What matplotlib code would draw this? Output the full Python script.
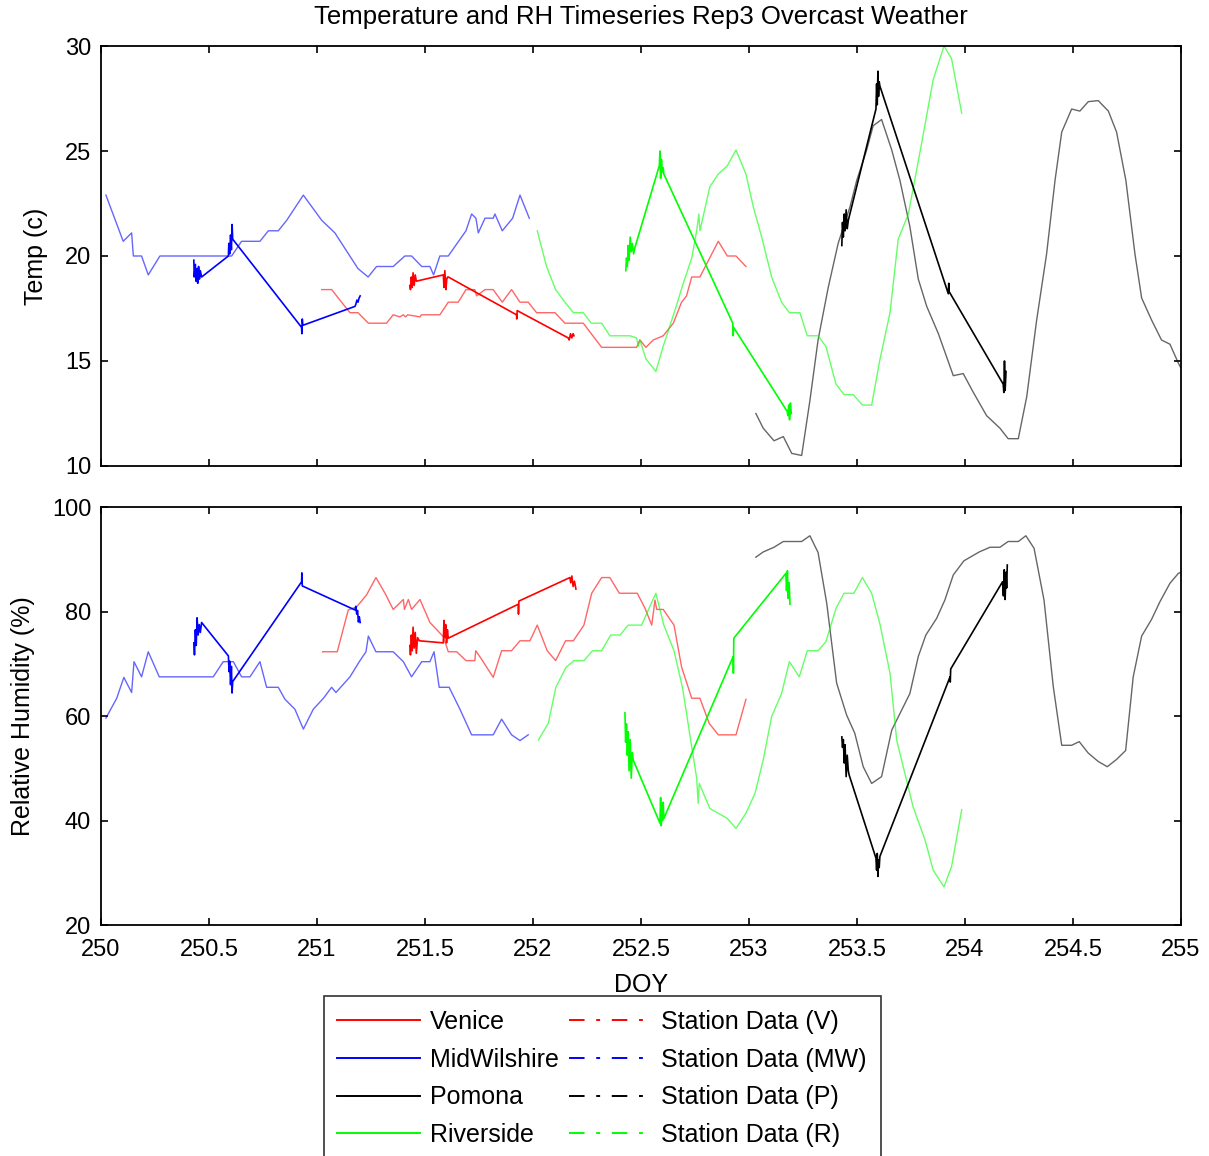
import matplotlib
matplotlib.use('Agg')
import matplotlib.pyplot as plt
from matplotlib.lines import Line2D

plt.rcParams['font.family'] = ['Liberation Sans', 'DejaVu Sans']

"""
Data read off the figure
"""

# Mobile measurements, temperature
mw_t_x = [250.430, 250.432, 250.437, 250.440, 250.445, 250.448, 250.452, 250.456, 250.460, 250.466,
          250.590, 250.592, 250.596, 250.600, 250.604, 250.607, 250.610,
          250.929, 250.930, 250.932, 250.935,
          251.176, 251.180, 251.185, 251.190, 251.195, 251.200]
mw_t_y = [19.8, 19.0, 19.6, 18.8, 19.4, 18.7, 19.5, 18.9, 19.3, 19.0,
          20.0, 20.6, 20.1, 21.0, 20.3, 21.5, 20.8,
          16.6, 16.3, 17.0, 16.7,
          17.6, 17.7, 17.9, 17.8, 18.0, 18.1]

v_t_x = [251.430, 251.433, 251.437, 251.441, 251.445, 251.450, 251.455, 251.460,
         251.585, 251.588, 251.592, 251.597, 251.601, 251.605, 251.608,
         251.924, 251.925, 251.927,
         252.163, 252.168, 252.174, 252.180, 252.186, 252.190]
v_t_y = [18.6, 18.4, 19.0, 18.5, 19.2, 18.6, 19.1, 18.8,
         19.1, 18.5, 19.3, 18.4, 18.9, 19.0, 19.0,
         17.2, 17.0, 17.4,
         16.1, 16.0, 16.3, 16.1, 16.3, 16.2]

r_t_x = [252.430, 252.433, 252.437, 252.441, 252.445, 252.450, 252.455, 252.460, 252.466, 252.472,
         252.585, 252.588, 252.591, 252.595, 252.599, 252.603, 252.606,
         252.925, 252.927, 252.929,
         253.177, 253.180, 253.184, 253.188, 253.192, 253.196]
r_t_y = [19.3, 19.9, 19.5, 20.5, 19.8, 20.9, 20.2, 20.6, 20.1, 20.4,
         24.3, 25.0, 23.7, 24.6, 24.0, 24.2, 23.9,
         16.8, 16.2, 16.6,
         12.6, 12.4, 12.9, 12.2, 13.0, 12.5]

p_t_x = [253.430, 253.433, 253.437, 253.441, 253.445, 253.450, 253.455, 253.460,
         253.588, 253.591, 253.594, 253.597, 253.600, 253.603, 253.606,
         253.923, 253.925, 253.927,
         254.177, 254.180, 254.183, 254.186, 254.190]
p_t_y = [20.5, 21.6, 20.9, 22.0, 21.2, 22.2, 21.3, 21.7,
         27.0, 28.2, 27.2, 28.8, 27.6, 28.3, 28.1,
         18.2, 18.7, 18.3,
         13.9, 13.5, 15.0, 13.6, 14.5]

# Station data, temperature
mw_st_x = [250.023, 250.103, 250.142, 250.150, 250.188, 250.219, 250.273, 250.605, 250.651, 250.736,
           250.775, 250.821, 250.860, 250.937, 251.022, 251.083, 251.190, 251.237, 251.276, 251.353,
           251.407, 251.438, 251.485, 251.523, 251.540, 251.569, 251.608, 251.690, 251.716, 251.736,
           251.747, 251.778, 251.816, 251.824, 251.858, 251.906, 251.940, 251.983]
mw_st_y = [22.9, 20.7, 21.1, 20.0, 20.0, 19.1, 20.0, 20.0, 20.7, 20.7,
           21.2, 21.2, 21.7, 22.9, 21.7, 21.1, 19.4, 19.0, 19.5, 19.5,
           20.0, 20.0, 19.5, 19.5, 19.1, 20.0, 20.0, 21.2, 22.0, 21.8,
           21.1, 21.8, 21.8, 22.0, 21.2, 21.8, 22.9, 21.8]

v_st_x = [251.022, 251.068, 251.114, 251.153, 251.190, 251.238, 251.322, 251.353, 251.384, 251.400,
          251.410, 251.420, 251.477, 251.484, 251.569, 251.608, 251.654, 251.690, 251.731, 251.739,
          251.778, 251.816, 251.858, 251.901, 251.940, 251.978, 252.017, 252.102, 252.148, 252.233,
          252.318, 252.480, 252.495, 252.523, 252.557, 252.603, 252.650, 252.688, 252.711, 252.735,
          252.773, 252.858, 252.900, 252.940, 252.986]
v_st_y = [18.4, 18.4, 17.8, 17.3, 17.3, 16.8, 16.8, 17.2, 17.1, 17.2,
          17.1, 17.2, 17.1, 17.2, 17.2, 17.8, 17.8, 18.4, 18.4, 18.1,
          18.4, 18.4, 17.8, 18.4, 17.8, 17.8, 17.3, 17.3, 16.8, 16.8,
          15.65, 15.65, 16.0, 15.65, 16.0, 16.2, 16.8, 17.8, 18.1, 19.0,
          19.0, 20.7, 20.0, 20.0, 19.5]

r_st_x = [252.020, 252.063, 252.105, 252.148, 252.187, 252.233, 252.270, 252.318, 252.356, 252.449,
          252.480, 252.488, 252.495, 252.523, 252.569, 252.603, 252.657, 252.696, 252.735, 252.758,
          252.768, 252.773, 252.819, 252.858, 252.900, 252.940, 252.986, 253.020, 253.059, 253.105,
          253.151, 253.187, 253.236, 253.270, 253.320, 253.356, 253.403, 253.440, 253.483, 253.525,
          253.568, 253.606, 253.653, 253.691, 253.738, 253.800, 253.853, 253.903, 253.938, 253.985]
r_st_y = [21.2, 19.5, 18.4, 17.8, 17.3, 17.3, 16.8, 16.8, 16.2, 16.2,
          16.1, 15.7, 16.0, 15.1, 14.5, 15.7, 17.4, 18.7, 19.9, 21.2,
          22.0, 21.2, 23.3, 23.9, 24.3, 25.05, 23.9, 22.35, 20.9, 19.0,
          17.8, 17.3, 17.3, 16.2, 16.2, 15.7, 13.9, 13.4, 13.4, 12.9,
          12.9, 15.05, 17.3, 20.8, 22.0, 25.4, 28.4, 30.0, 29.4, 26.8]

p_st_x = [253.032, 253.066, 253.116, 253.159, 253.198, 253.244, 253.282, 253.320, 253.367, 253.413,
          253.468, 253.499, 253.545, 253.575, 253.614, 253.661, 253.699, 253.745, 253.784, 253.823,
          253.877, 253.946, 253.992, 254.039, 254.100, 254.162, 254.200, 254.247, 254.286, 254.332,
          254.378, 254.417, 254.448, 254.494, 254.532, 254.571, 254.617, 254.664, 254.702, 254.745,
          254.787, 254.818, 254.864, 254.910, 254.949, 254.988, 254.998]
p_st_y = [12.5, 11.8, 11.2, 11.4, 10.6, 10.5, 13.1, 16.0, 18.5, 20.6,
          22.35, 23.6, 25.05, 26.2, 26.5, 25.05, 23.6, 21.4, 18.9, 17.6,
          16.3, 14.3, 14.4, 13.5, 12.4, 11.8, 11.3, 11.3, 13.3, 16.95,
          20.1, 23.6, 25.9, 27.0, 26.9, 27.35, 27.4, 26.9, 25.9, 23.6,
          20.1, 18.0, 16.95, 16.0, 15.8, 14.9, 14.7]

# Mobile measurements, relative humidity
mw_rh_x = [250.430, 250.433, 250.437, 250.441, 250.445, 250.450, 250.455, 250.460, 250.466,
           250.590, 250.593, 250.596, 250.600, 250.604, 250.607, 250.610,
           250.929, 250.930, 250.932,
           251.176, 251.180, 251.184, 251.188, 251.192, 251.196, 251.200]
mw_rh_y = [74.0, 71.7, 76.5, 73.5, 78.8, 75.5, 77.5, 76.0, 77.9,
           71.5, 68.5, 70.5, 66.0, 69.5, 64.4, 66.6,
           85.7, 87.4, 84.9,
           80.3, 81.0, 79.5, 80.2, 78.0, 79.0, 77.9]

v_rh_x = [251.430, 251.433, 251.437, 251.441, 251.445, 251.450, 251.455, 251.460, 251.466, 251.474,
          251.585, 251.588, 251.592, 251.596, 251.600, 251.604, 251.608,
          251.932, 251.933, 251.935,
          252.171, 252.175, 252.180, 252.186, 252.192, 252.199]
v_rh_y = [73.5, 71.7, 75.5, 72.5, 77.0, 73.0, 76.0, 72.0, 75.0, 74.4,
          74.0, 78.3, 75.0, 77.5, 74.0, 76.5, 74.9,
          81.4, 79.5, 82.0,
          86.5, 85.5, 86.8, 84.8, 85.8, 84.3]

r_rh_x = [252.426, 252.429, 252.433, 252.437, 252.441, 252.445, 252.450, 252.455, 252.460, 252.464,
          252.588, 252.591, 252.594, 252.597, 252.600, 252.603, 252.606,
          252.927, 252.928, 252.930,
          253.171, 253.174, 253.178, 253.182, 253.186, 253.190]
r_rh_y = [60.6, 55.0, 58.5, 52.5, 57.0, 49.5, 55.5, 48.1, 53.0, 51.6,
          39.5, 44.4, 39.0, 43.0, 40.0, 43.5, 40.4,
          71.4, 68.2, 74.9,
          87.3, 84.0, 87.8, 82.5, 85.5, 81.4]

p_rh_x = [253.430, 253.433, 253.437, 253.441, 253.445, 253.450, 253.455, 253.460, 253.464,
          253.588, 253.591, 253.594, 253.597, 253.600, 253.603, 253.606,
          253.931, 253.932, 253.934,
          254.174, 254.178, 254.182, 254.186, 254.190, 254.193, 254.196]
p_rh_y = [56.0, 54.0, 55.5, 51.0, 54.5, 48.4, 52.5, 49.5, 48.7,
          32.8, 30.5, 33.7, 29.3, 32.5, 31.0, 33.1,
          67.5, 66.5, 69.0,
          85.7, 83.0, 88.0, 82.3, 87.5, 84.5, 88.9]

# Station data, relative humidity
mw_srh_x = [250.023, 250.073, 250.106, 250.142, 250.153, 250.188, 250.219, 250.270, 250.520, 250.566,
            250.613, 250.651, 250.690, 250.736, 250.767, 250.821, 250.852, 250.898, 250.937, 250.983,
            251.030, 251.068, 251.088, 251.153, 251.196, 251.227, 251.238, 251.273, 251.353, 251.400,
            251.438, 251.485, 251.523, 251.542, 251.566, 251.612, 251.662, 251.716, 251.816, 251.855,
            251.901, 251.940, 251.978]
mw_srh_y = [59.6, 63.4, 67.4, 64.5, 70.4, 67.5, 72.3, 67.5, 67.5, 70.4,
            70.4, 67.5, 67.5, 70.4, 65.5, 65.5, 63.2, 61.3, 57.5, 61.3,
            63.4, 65.5, 64.5, 67.5, 70.4, 72.3, 75.3, 72.3, 72.3, 70.4,
            67.5, 70.4, 70.4, 72.3, 65.5, 65.5, 61.3, 56.4, 56.4, 59.4,
            56.4, 55.3, 56.4]

v_srh_x = [251.026, 251.094, 251.145, 251.184, 251.230, 251.273, 251.315, 251.353, 251.400, 251.405,
           251.423, 251.438, 251.477, 251.523, 251.585, 251.608, 251.647, 251.690, 251.731, 251.735,
           251.760, 251.816, 251.855, 251.901, 251.940, 251.986, 252.020, 252.066, 252.105, 252.151,
           252.187, 252.236, 252.272, 252.318, 252.356, 252.400, 252.483, 252.519, 252.550, 252.565,
           252.573, 252.603, 252.653, 252.688, 252.735, 252.773, 252.816, 252.858, 252.940, 252.986]
v_srh_y = [72.3, 72.3, 80.3, 80.9, 83.2, 86.5, 83.5, 80.4, 82.3, 80.4,
           82.3, 80.4, 82.3, 77.9, 75.2, 72.3, 72.3, 70.6, 70.6, 72.5,
           71.0, 67.4, 72.5, 72.5, 74.4, 74.4, 77.4, 72.5, 70.6, 74.4,
           74.4, 77.4, 83.5, 86.5, 86.5, 83.5, 83.5, 80.6, 77.4, 82.2,
           80.4, 80.4, 77.4, 69.4, 63.4, 63.4, 58.6, 56.4, 56.4, 63.2]

r_srh_x = [252.025, 252.071, 252.106, 252.153, 252.190, 252.236, 252.276, 252.318, 252.360, 252.403,
           252.441, 252.503, 252.535, 252.569, 252.606, 252.653, 252.693, 252.735, 252.758, 252.765,
           252.770, 252.819, 252.900, 252.940, 252.986, 253.028, 253.066, 253.105, 253.151, 253.187,
           253.233, 253.270, 253.320, 253.356, 253.403, 253.440, 253.486, 253.525, 253.568, 253.606,
           253.653, 253.684, 253.760, 253.815, 253.853, 253.903, 253.938, 253.985]
r_srh_y = [55.4, 58.6, 65.5, 69.3, 70.6, 70.6, 72.5, 72.5, 75.5, 75.5,
           77.4, 77.4, 80.4, 83.5, 77.4, 72.5, 65.3, 54.1, 48.1, 43.3,
           47.1, 42.3, 40.4, 38.5, 41.4, 45.2, 51.6, 59.9, 64.3, 70.4,
           67.5, 72.5, 72.5, 74.2, 80.6, 83.5, 83.5, 86.5, 83.5, 77.7,
           68.2, 55.4, 42.6, 36.3, 30.5, 27.3, 31.2, 42.1]

p_srh_x = [253.032, 253.066, 253.116, 253.159, 253.244, 253.282, 253.320, 253.360, 253.406, 253.452,
           253.490, 253.529, 253.568, 253.614, 253.661, 253.745, 253.784, 253.819, 253.869, 253.907,
           253.946, 253.995, 254.066, 254.116, 254.162, 254.200, 254.247, 254.282, 254.320, 254.366,
           254.409, 254.448, 254.494, 254.529, 254.571, 254.617, 254.659, 254.702, 254.744, 254.779,
           254.818, 254.864, 254.903, 254.949, 254.988, 254.998]
p_srh_y = [90.4, 91.4, 92.3, 93.4, 93.4, 94.5, 91.3, 81.6, 66.3, 60.2,
           56.7, 50.3, 47.1, 48.4, 57.3, 64.3, 71.4, 75.5, 78.7, 82.2,
           87.0, 89.7, 91.4, 92.3, 92.3, 93.4, 93.4, 94.5, 92.1, 82.2,
           65.6, 54.4, 54.4, 55.1, 52.9, 51.3, 50.3, 51.7, 53.4, 67.5,
           75.3, 78.5, 81.9, 85.4, 87.3, 87.5]

site_names = ['Venice', 'MidWilshire', 'Pomona', 'Riverside']
station_names = ['Station Data (V)', 'Station Data (MW)', 'Station Data (P)', 'Station Data (R)']
colors = ['#ff0000', '#0000ff', '#000000', '#00ff00']

x_ticks = [250, 250.5, 251, 251.5, 252, 252.5, 253, 253.5, 254, 254.5, 255]
x_ticklabels = ['250', '250.5', '251', '251.5', '252', '252.5', '253', '253.5', '254', '254.5', '255']


def style_axes(ax):
    "MATLAB-like box with inward ticks on every side"
    ax.set_xlim(250, 255)
    ax.set_xticks(x_ticks)
    ax.tick_params(direction='in', top=True, right=True, length=5, width=1.2,
                   labelsize=17, pad=7)
    ax.tick_params(axis='x', pad=10)
    for s in ax.spines.values():
        s.set_linewidth(1.3)


def main():
    fig = plt.figure(figsize=(12.09, 11.56), dpi=100)
    ax1 = fig.add_axes([0.0835, 0.5969, 0.8933, 0.3633])
    ax2 = fig.add_axes([0.0835, 0.1998, 0.8933, 0.3616])

    mobile_t = [(v_t_x, v_t_y), (mw_t_x, mw_t_y), (p_t_x, p_t_y), (r_t_x, r_t_y)]
    station_t = [(v_st_x, v_st_y), (mw_st_x, mw_st_y), (p_st_x, p_st_y), (r_st_x, r_st_y)]
    mobile_rh = [(v_rh_x, v_rh_y), (mw_rh_x, mw_rh_y), (p_rh_x, p_rh_y), (r_rh_x, r_rh_y)]
    station_rh = [(v_srh_x, v_srh_y), (mw_srh_x, mw_srh_y), (p_srh_x, p_srh_y), (r_srh_x, r_srh_y)]

    # station traces are dense dash-dot in the original, so they read as faint lines
    for (x, y), c in zip(station_t, colors):
        ax1.plot(x, y, color=c, lw=1.0, alpha=0.6)
    for (x, y), c in zip(mobile_t, colors):
        ax1.plot(x, y, color=c, lw=1.2)
    for (x, y), c in zip(station_rh, colors):
        ax2.plot(x, y, color=c, lw=1.0, alpha=0.6)
    for (x, y), c in zip(mobile_rh, colors):
        ax2.plot(x, y, color=c, lw=1.2)

    style_axes(ax1)
    ax1.set_ylim(10, 30)
    ax1.set_yticks([10, 15, 20, 25, 30])
    ax1.set_xticklabels([])
    ax1.set_ylabel('Temp (c)', fontsize=18, labelpad=12)
    ax1.set_title('Temperature and RH Timeseries Rep3 Overcast Weather', fontsize=18.5, pad=16)

    style_axes(ax2)
    ax2.set_ylim(20, 100)
    ax2.set_yticks([20, 40, 60, 80, 100])
    ax2.set_xticklabels(x_ticklabels)
    ax2.set_ylabel('Relative Humidity (%)', fontsize=18, labelpad=12)
    ax2.set_xlabel('DOY', fontsize=18, labelpad=9)

    handles = [Line2D([], [], color=c, lw=1.4) for c in colors]
    handles += [Line2D([], [], color=c, lw=1.4, linestyle=(0, (8, 6, 2, 6))) for c in colors]
    labels = site_names + station_names
    leg = fig.legend(handles, labels, ncol=2, loc='upper center',
                     bbox_to_anchor=(0.498, 0.1384), fontsize=18, frameon=True,
                     fancybox=False, edgecolor='black', handlelength=3.3,
                     columnspacing=0.4, handletextpad=0.4, labelspacing=0.55,
                     borderpad=0.55, borderaxespad=0)
    leg.get_frame().set_linewidth(1.2)

    fig.savefig('out.png', dpi=100)


main()
